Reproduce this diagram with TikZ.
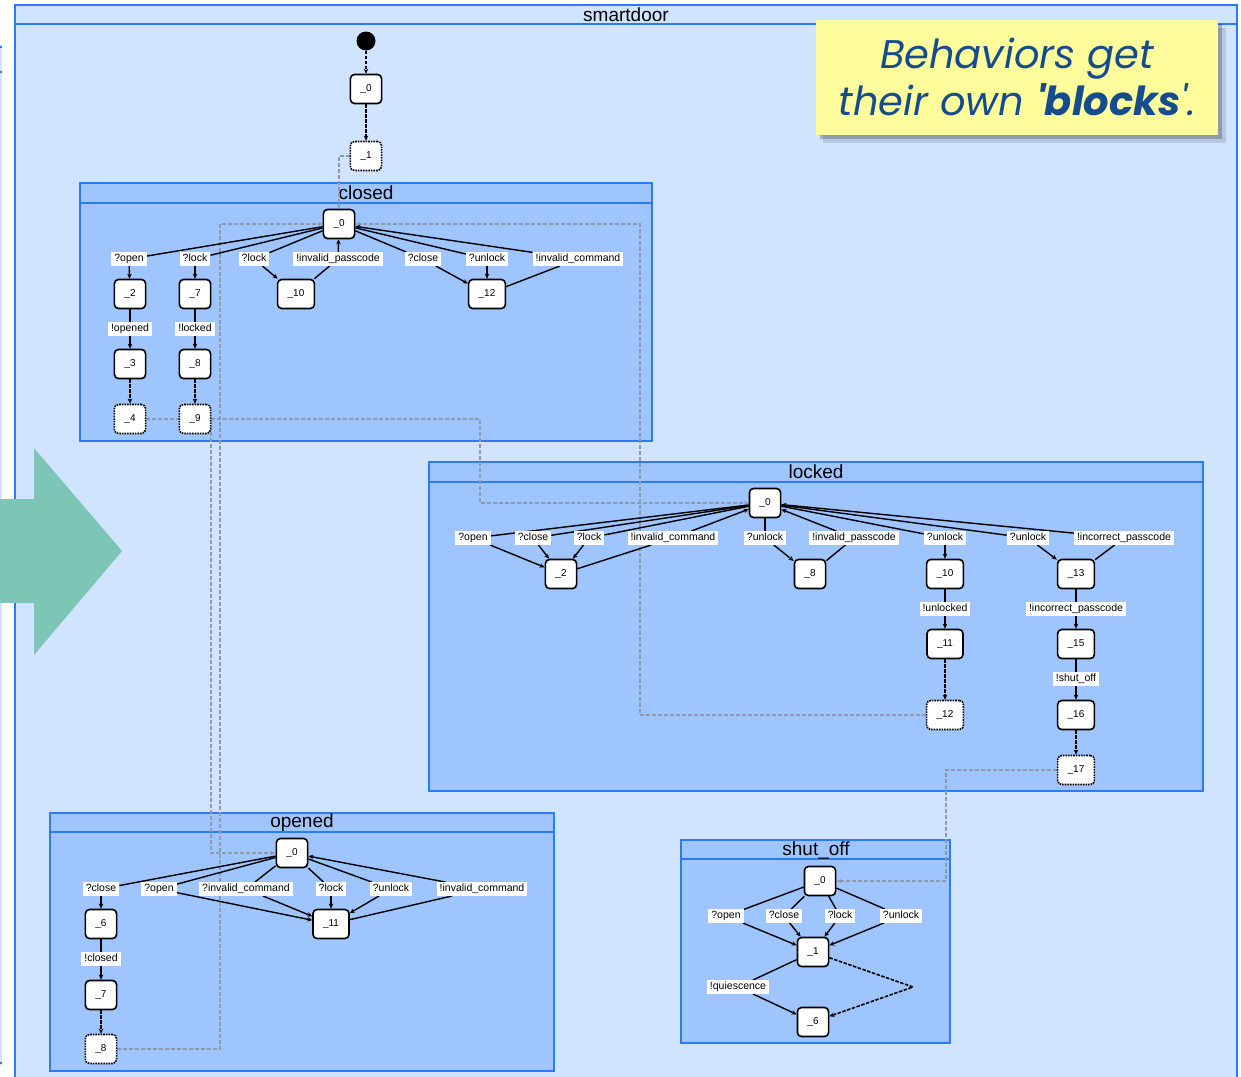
\documentclass[tikz,border=0pt]{standalone}
\usepackage{fontspec}
\setmainfont{Liberation Sans}
\newfontfamily\calloutfont[Ligatures=TeXOff]{Poppins}
\usetikzlibrary{calc,positioning,arrows.meta}

\definecolor{outerblue}{HTML}{D0E3FF}
\definecolor{blockblue}{HTML}{9EC5FE}
\definecolor{frameblue}{HTML}{2B7BF5}
\definecolor{linkgray}{HTML}{8E99AD}
\definecolor{arrowteal}{HTML}{7DC5B5}
\definecolor{noteyellow}{HTML}{FFFC9C}
\definecolor{noteblue}{HTML}{154C8E}

\pgfdeclarelayer{back}
\pgfdeclarelayer{mid}
\pgfsetlayers{back,mid,main}

\begin{document}
\begin{tikzpicture}[x=1pt, y=-1pt, >={Stealth[length=5pt,width=4.5pt]},
  state/.style={draw, line width=1.6pt, fill=white, rounded corners=4pt,
    minimum height=29pt, inner xsep=10pt, inner ysep=2pt, font=\fontsize{10}{12}\selectfont},
  exitstate/.style={state, densely dotted},
  lbl/.style={fill=white, inner xsep=3pt, inner ysep=1.5pt, text height=8pt, text depth=2.5pt,
    font=\fontsize{10.5}{12}\selectfont},
  blocktitle/.style={font=\fontsize{19}{22}\selectfont},
  tr/.style={line width=1.4pt},
  silent/.style={line width=1.6pt, dash pattern=on 3.5pt off 1.5pt},
  link/.style={draw=linkgray, line width=1.2pt, dash pattern=on 3.5pt off 2.5pt, -{Stealth[length=5pt,width=4pt]}},
  block/.style={draw=frameblue, line width=2pt, fill=blockblue}]

  \clip (0,0) rectangle (1241,1076);

  % Frames of the machine and its behaviours
  \begin{pgfonlayer}{back}
    \fill[white] (0,0) rectangle (1241,1076);
    \fill[outerblue] (0,45) rectangle (2,1065);
    \foreach \yy in {47,72,1063}
      \draw[frameblue, line width=1.5pt] (0,\yy) -- (2,\yy);
    \draw[frameblue, line width=2pt, fill=outerblue] (15,5) rectangle (1237,1095);
    \draw[frameblue, line width=2pt] (15,24) -- (1237,24);
    \node[blocktitle] (tdoor) at (626,15) {smartdoor};

    \draw[block] (80,183) rectangle (652,441);
    \draw[frameblue, line width=2pt] (80,203) -- (652,203);
    \node[blocktitle] (tclosed) at (366,193) {closed};

    \draw[block] (429,462) rectangle (1203,791);
    \draw[frameblue, line width=2pt] (429,482) -- (1203,482);
    \node[blocktitle] (tlocked) at (816,472) {locked};

    \draw[block] (50,813) rectangle (554,1071);
    \draw[frameblue, line width=2pt] (50,832) -- (554,832);
    \node[blocktitle] (topened) at (302,823) {opened};

    \draw[block] (681,840) rectangle (950,1043);
    \draw[frameblue, line width=2pt] (681,859) -- (950,859);
    \node[blocktitle] (tshut) at (816,850) {shut\_off};
  \end{pgfonlayer}

  % Entry of the machine
  \node[circle, fill=black, minimum size=19pt, inner sep=0pt] (init) at (366,41) {};
  \node[state] (m0) at (366,89) {\_0};
  \node[exitstate] (m1) at (366,156) {\_1};

  % closed
  \node[state] (c0) at (339,224) {\_0};
  \node[state] (c2) at (130,294) {\_2};
  \node[state] (c7) at (195,294) {\_7};
  \node[state] (c10) at (296,294) {\_10};
  \node[state] (c12) at (487,294) {\_12};
  \node[state] (c3) at (130,364) {\_3};
  \node[state] (c8) at (195,364) {\_8};
  \node[exitstate] (c4) at (130,419) {\_4};
  \node[exitstate] (c9) at (195,419) {\_9};

  \node[lbl] (cOpen) at (129,259) {?open};
  \node[lbl] (cLock) at (195,259) {?lock};
  \node[lbl] (cLockb) at (254,259) {?lock};
  \node[lbl] (cInvPass) at (338,259) {!invalid\_passcode};
  \node[lbl] (cClose) at (423,259) {?close};
  \node[lbl] (cUnlock) at (487,259) {?unlock};
  \node[lbl] (cInvCmd) at (578,259) {!invalid\_command};
  \node[lbl] (cOpened) at (130,329) {!opened};
  \node[lbl] (cLocked) at (195,329) {!locked};

  % locked
  \node[state] (l0) at (765,503) {\_0};
  \node[state] (l2) at (561,574) {\_2};
  \node[state] (l8) at (810,574) {\_8};
  \node[state] (l10) at (945,574) {\_10};
  \node[state] (l13) at (1076,574) {\_13};
  \node[state] (l11) at (945,644) {\_11};
  \node[state] (l15) at (1076,644) {\_15};
  \node[exitstate] (l12) at (945,715) {\_12};
  \node[state] (l16) at (1076,715) {\_16};
  \node[exitstate] (l17) at (1076,770) {\_17};

  \node[lbl] (lOpen) at (473,538) {?open};
  \node[lbl] (lClose) at (533,538) {?close};
  \node[lbl] (lLock) at (589,538) {?lock};
  \node[lbl] (lInvCmd) at (673,538) {!invalid\_command};
  \node[lbl] (lUnlock) at (765,538) {?unlock};
  \node[lbl] (lInvPass) at (854,538) {!invalid\_passcode};
  \node[lbl] (lUnlockb) at (945,538) {?unlock};
  \node[lbl] (lUnlockc) at (1028,538) {?unlock};
  \node[lbl] (lIncPass) at (1124,538) {!incorrect\_passcode};
  \node[lbl] (lUnlocked) at (945,609) {!unlocked};
  \node[lbl] (lIncPassb) at (1076,609) {!incorrect\_passcode};
  \node[lbl] (lShut) at (1076,679) {!shut\_off};

  % opened
  \node[state] (o0) at (292,853) {\_0};
  \node[state] (o6) at (101,924) {\_6};
  \node[state] (o11) at (331,924) {\_11};
  \node[state] (o7) at (101,995) {\_7};
  \node[exitstate] (o8) at (101,1049) {\_8};

  \node[lbl] (oClose) at (101,889) {?close};
  \node[lbl] (oOpen) at (159,889) {?open};
  \node[lbl] (oInvCmdq) at (246,889) {?invalid\_command};
  \node[lbl] (oLock) at (331,889) {?lock};
  \node[lbl] (oUnlock) at (391,889) {?unlock};
  \node[lbl] (oInvCmd) at (482,889) {!invalid\_command};
  \node[lbl] (oClosed) at (101,959) {!closed};

  % shut_off
  \node[state] (s0) at (820,881) {\_0};
  \node[state] (s1) at (813,952) {\_1};
  \node[state] (s6) at (813,1022) {\_6};
  \coordinate (sBend) at (913,987);

  \node[lbl] (sOpen) at (726,916) {?open};
  \node[lbl] (sClose) at (784,916) {?close};
  \node[lbl] (sLock) at (840,916) {?lock};
  \node[lbl] (sUnlock) at (901,916) {?unlock};
  \node[lbl] (sQuiet) at (738,987) {!quiescence};

  \begin{pgfonlayer}{mid}
    % Hand-over between behaviours
    \draw[link] (m1.west) -| (c0.north);
    \draw[link] (c4.east) -- (211,419) |- (o0.west);
    \draw[link] (c9.east) -- (480,419) |- (l0.west);
    \draw[link] (o8.east) -- (220,1049) |- (c0.west);
    \draw[link] (l12.west) -- (640,715) |- (c0.east);
    \draw[link] (l17.west) -- (946,770) |- (s0.east);

    % Transitions
    \draw[silent,->] (init) -- (m0);
    \draw[silent,->] (m0) -- (m1);

    \foreach \lb/\dst in {cOpen/c2, cLock/c7, cLockb/c10, cClose/c12, cUnlock/c12}{
      \draw[tr] (c0) -- (\lb);
      \draw[tr,->] (\lb) -- (\dst);
    }
    \draw[tr] (c10) -- (cInvPass);
    \draw[tr,->] (cInvPass) -- (c0);
    \draw[tr] (c12) -- (cInvCmd);
    \draw[tr,->] (cInvCmd) -- (c0);
    \draw[tr] (c2) -- (cOpened);
    \draw[tr,->] (cOpened) -- (c3);
    \draw[tr] (c7) -- (cLocked);
    \draw[tr,->] (cLocked) -- (c8);
    \draw[silent,->] (c3) -- (c4);
    \draw[silent,->] (c8) -- (c9);

    \foreach \lb/\dst in {lOpen/l2, lClose/l2, lLock/l2, lUnlock/l8, lUnlockb/l10, lUnlockc/l13}{
      \draw[tr] (l0) -- (\lb);
      \draw[tr,->] (\lb) -- (\dst);
    }
    \foreach \src/\lb in {l2/lInvCmd, l8/lInvPass, l13/lIncPass}{
      \draw[tr] (\src) -- (\lb);
      \draw[tr,->] (\lb) -- (l0);
    }
    \draw[tr] (l10) -- (lUnlocked);
    \draw[tr,->] (lUnlocked) -- (l11);
    \draw[tr] (l13) -- (lIncPassb);
    \draw[tr,->] (lIncPassb) -- (l15);
    \draw[tr] (l15) -- (lShut);
    \draw[tr,->] (lShut) -- (l16);
    \draw[silent,->] (l11) -- (l12);
    \draw[silent,->] (l16) -- (l17);

    \foreach \lb/\dst in {oClose/o6, oOpen/o11, oInvCmdq/o11, oLock/o11, oUnlock/o11}{
      \draw[tr] (o0) -- (\lb);
      \draw[tr,->] (\lb) -- (\dst);
    }
    \draw[tr] (o11) -- (oInvCmd);
    \draw[tr,->] (oInvCmd) -- (o0);
    \draw[tr] (o6) -- (oClosed);
    \draw[tr,->] (oClosed) -- (o7);
    \draw[silent,->] (o7) -- (o8);

    \foreach \lb in {sOpen, sClose, sLock, sUnlock}{
      \draw[tr] (s0) -- (\lb);
      \draw[tr,->] (\lb) -- (s1);
    }
    \draw[tr] (s1) -- (sQuiet);
    \draw[tr,->] (sQuiet) -- (s6);
    \draw[silent,->] (s1) -- (sBend) -- (s6);
  \end{pgfonlayer}

  % Note in the corner
  \fill[black, opacity=0.12] (823,28) rectangle (1226,143);
  \fill[black, opacity=0.22] (820,24) rectangle (1222,139);
  \node[fill=noteyellow, minimum width=402pt, minimum height=115pt, align=center,
    text=noteblue, font=\calloutfont\itshape\fontsize{40}{47}\selectfont] (note) at (1017,77)
    {Behaviors get\\their own {\bfseries 'blocks}'.};

  % Big arrow on the left
  \fill[arrowteal] (0,499) -- (34,499) -- (34,448) -- (122,551) -- (34,655) -- (34,603) -- (0,603) -- cycle;
\end{tikzpicture}
\end{document}
